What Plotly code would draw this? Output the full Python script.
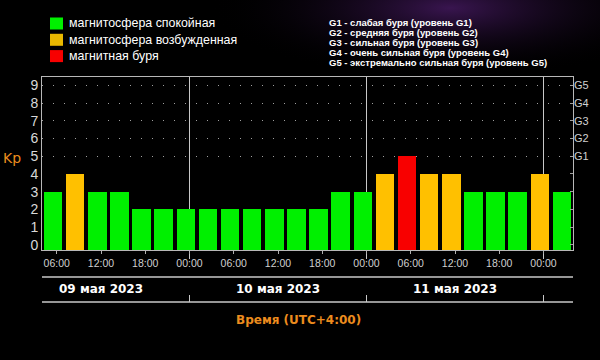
import base64
import pandas as pd
import plotly.graph_objects as go

# ---------------- data ----------------
interval_starts = pd.date_range("2023-05-09 04:00", periods=24, freq="3h")  # UTC+4
kp_values = [3, 4, 3, 3, 2, 2, 2, 2, 2, 2, 2, 2, 2, 3, 3, 4, 5, 4, 4, 3, 3, 3, 4, 3]
day_noons = ["2023-05-09 12:00", "2023-05-10 12:00", "2023-05-11 12:00"]
day_labels = ["09 мая 2023", "10 мая 2023", "11 мая 2023"]
day_boundaries = ["2023-05-10 00:00", "2023-05-11 00:00", "2023-05-12 00:00"]
x_start, x_end = "2023-05-09 04:00", "2023-05-12 04:00"
kp_ticks = list(range(10))
g_levels = [5, 6, 7, 8, 9]
g_labels = ["G1", "G2", "G3", "G4", "G5"]
legend_left = ["магнитосфера спокойная", "магнитосфера возбужденная", "магнитная буря"]
legend_right = [
    "G1 - слабая буря (уровень G1)",
    "G2 - средняя буря (уровень G2)",
    "G3 - сильная буря (уровень G3)",
    "G4 - очень сильная буря (уровень G4)",
    "G5 - экстремально сильная буря (уровень G5)",
]

# ---------------- style ----------------
GREEN, YELLOW, RED = "#00f000", "#ffc000", "#f80000"
ORANGE = "#ec8c1e"
W, H = 600, 360
L, R, T, B = 42, 27, 77, 110
PW, PH = W - L - R, H - T - B
Y_MIN, Y_MAX = -0.3, 9.48
HOUR_MS = 3600 * 1000


def px(x):
    return (x - L) / PW


def py(y):
    return (H - B - y) / PH


def kp_color(v):
    if v >= 5:
        return RED
    if v == 4:
        return YELLOW
    return GREEN


bar_centers = interval_starts + pd.Timedelta(hours=1.5)

fig = go.Figure()
fig.add_trace(go.Bar(
    x=bar_centers,
    y=[v - Y_MIN for v in kp_values],
    base=Y_MIN,
    width=0.84 * 3 * HOUR_MS,
    marker=dict(color=[kp_color(v) for v in kp_values], line=dict(width=0)),
    customdata=kp_values,
    hovertemplate="Kp %{customdata}<extra></extra>",
    showlegend=False,
))
fig.add_trace(go.Scatter(x=[], y=[], yaxis="y3", showlegend=False))
fig.add_trace(go.Scatter(x=[], y=[], yaxis="y2", showlegend=False))

shapes = []
# day boundary lines (behind bars)
for b in day_boundaries:
    shapes.append(dict(type="line", xref="x", yref="paper", x0=b, x1=b,
                       y0=py(259), y1=1, layer="below",
                       line=dict(color="#c8c8c8", width=1)))
    shapes.append(dict(type="line", xref="x", yref="paper", x0=b, x1=b,
                       y0=py(302), y1=py(295), line=dict(color="#c8c8c8", width=1)))
# horizontal separators below axis
for yy in (277, 302):
    shapes.append(dict(type="line", xref="paper", yref="paper", x0=0, x1=1,
                       y0=py(yy), y1=py(yy), line=dict(color="#c8c8c8", width=1.5)))
# legend squares
for i, c in enumerate([GREEN, "#e8b800", RED]):
    top = 17.5 + i * 16.3
    shapes.append(dict(type="rect", xref="paper", yref="paper",
                       x0=px(50), x1=px(63), y0=py(top), y1=py(top + 12),
                       fillcolor=c, line=dict(width=0)))

annotations = []
for i, t in enumerate(legend_left):
    annotations.append(dict(text=t, xref="paper", yref="paper", x=px(67), y=py(23.5 + i * 16.3),
                            xanchor="left", yanchor="middle", showarrow=False,
                            font=dict(family="Liberation Sans", size=12.4, color="#ffffff")))
for i, t in enumerate(legend_right):
    annotations.append(dict(text="<b>" + t + "</b>", xref="paper", yref="paper",
                            x=px(327), y=py(22.5 + i * 10),
                            xanchor="left", yanchor="middle", showarrow=False,
                            font=dict(family="Liberation Sans", size=9.5, color="#ffffff")))
for xd, t in zip(day_noons, day_labels):
    annotations.append(dict(text="<b>" + t + "</b>", xref="x", yref="paper", x=xd, y=py(289),
                            xanchor="center", yanchor="middle", showarrow=False,
                            font=dict(family="DejaVu Sans", size=12, color="#ffffff")))
annotations.append(dict(text="Kp", xref="paper", yref="paper", x=px(11.5), y=py(157.5),
                        xanchor="center", yanchor="middle", showarrow=False,
                        font=dict(family="DejaVu Sans", size=14, color=ORANGE)))
annotations.append(dict(text="<b>Время (UTC+4:00)</b>", xref="paper", yref="paper",
                        x=px(298), y=py(320), xanchor="center", yanchor="middle", showarrow=False,
                        font=dict(family="DejaVu Sans", size=12, color=ORANGE)))

# purple haze background
svg = ('<svg xmlns="http://www.w3.org/2000/svg" width="600" height="360">'
       '<defs><radialGradient id="g"><stop offset="0" stop-color="#4c1c6a" stop-opacity="0.75"/>'
       '<stop offset="1" stop-color="#000000" stop-opacity="0"/></radialGradient></defs>'
       '<ellipse cx="450" cy="8" rx="240" ry="70" fill="url(#g)"/></svg>')
svg_uri = "data:image/svg+xml;base64," + base64.b64encode(svg.encode()).decode()

fig.update_layout(
    width=W, height=H,
    margin=dict(l=L, r=R, t=T, b=B),
    paper_bgcolor="#000000",
    plot_bgcolor="rgba(0,0,0,0)",
    bargap=0,
    shapes=shapes,
    annotations=annotations,
    images=[dict(source=svg_uri, xref="paper", yref="paper", x=px(0), y=py(0),
                 sizex=W / PW, sizey=H / PH, xanchor="left", yanchor="top",
                 sizing="stretch", layer="below")],
    xaxis=dict(type="date", range=[x_start, x_end],
               tick0="2023-05-09 00:00", dtick=6 * HOUR_MS, tickformat="%H:%M",
               ticks="outside", ticklen=3, tickcolor="#b0b0b0",
               tickfont=dict(family="Liberation Sans", size=10.5, color="#d0d0d0"),
               showline=True, linecolor="#b8b8b8", linewidth=1, mirror=True,
               showgrid=False, zeroline=False, fixedrange=True),
    yaxis=dict(range=[Y_MIN, Y_MAX], tickvals=kp_ticks, ticks="",
               tickfont=dict(family="Liberation Sans", size=14, color="#d8d8d8"),
               showline=True, linecolor="#b8b8b8", linewidth=1, mirror=True,
               showgrid=False, zeroline=False, fixedrange=True),
    yaxis2=dict(overlaying="y", side="right", range=[Y_MIN, Y_MAX],
                tickvals=kp_ticks, ticktext=[""] * 5 + g_labels,
                ticks="inside", ticklen=3, tickcolor="#a0a0a0",
                tickfont=dict(family="Liberation Sans", size=11, color="#d0d0d0"),
                showgrid=False, showline=False, zeroline=False, fixedrange=True),
    yaxis3=dict(overlaying="y", range=[Y_MIN, Y_MAX], tickvals=g_levels,
                showticklabels=False, ticks="", showgrid=True, gridcolor="#a0a0a0",
                gridwidth=1, griddash="1px,10px", zeroline=False, showline=False,
                fixedrange=True),
)

fig.write_html("out.html", config={"displayModeBar": False},
               post_script="document.body.style.margin='0px';document.body.style.background='#000';")
